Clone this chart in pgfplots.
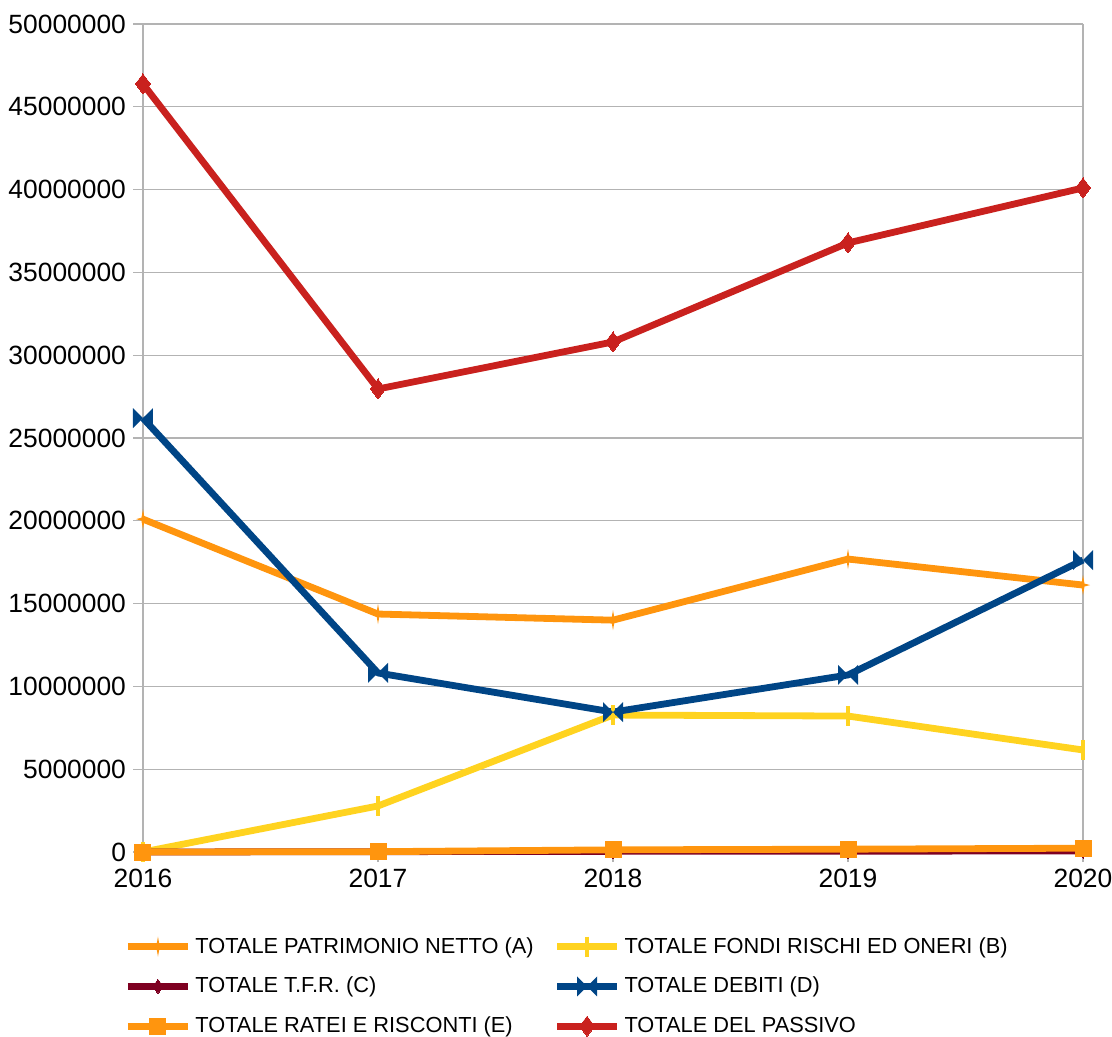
\documentclass[border=0pt]{standalone}
\usepackage{pgfplots}
\pgfplotsset{compat=1.18}
\usepackage{fontspec}
\setmainfont{Liberation Sans}

\definecolor{cA}{HTML}{FF950E}
\definecolor{cB}{HTML}{FFD320}
\definecolor{cC}{HTML}{7E0021}
\definecolor{cD}{HTML}{004586}
\definecolor{cP}{HTML}{C9211E}
\definecolor{gridc}{HTML}{B3B3B3}

% bowtie mark for the debts line
\pgfdeclareplotmark{bowtie}{%
  \pgfpathmoveto{\pgfqpoint{-\pgfplotmarksize}{\pgfplotmarksize}}%
  \pgfpathlineto{\pgfqpoint{\pgfplotmarksize}{-\pgfplotmarksize}}%
  \pgfpathlineto{\pgfqpoint{\pgfplotmarksize}{\pgfplotmarksize}}%
  \pgfpathlineto{\pgfqpoint{-\pgfplotmarksize}{-\pgfplotmarksize}}%
  \pgfpathclose\pgfusepathqfill}
% thin four-point star
\pgfdeclareplotmark{spark}{%
  \pgfpathmoveto{\pgfqpoint{0pt}{\pgfplotmarksize}}%
  \pgfpathlineto{\pgfqpoint{0.15\pgfplotmarksize}{0.15\pgfplotmarksize}}%
  \pgfpathlineto{\pgfqpoint{0.7\pgfplotmarksize}{0pt}}%
  \pgfpathlineto{\pgfqpoint{0.15\pgfplotmarksize}{-0.15\pgfplotmarksize}}%
  \pgfpathlineto{\pgfqpoint{0pt}{-\pgfplotmarksize}}%
  \pgfpathlineto{\pgfqpoint{-0.15\pgfplotmarksize}{-0.15\pgfplotmarksize}}%
  \pgfpathlineto{\pgfqpoint{-0.7\pgfplotmarksize}{0pt}}%
  \pgfpathlineto{\pgfqpoint{-0.15\pgfplotmarksize}{0.15\pgfplotmarksize}}%
  \pgfpathclose\pgfusepathqfill}

\begin{document}
\begin{tikzpicture}
\begin{axis}[
  scale only axis, width=470pt, height=414pt,
  xmin=2016, xmax=2020, ymin=0, ymax=50000000,
  xtick={2016,2017,2018,2019,2020},
  ytick={0,5000000,10000000,15000000,20000000,25000000,30000000,35000000,40000000,45000000,50000000},
  scaled y ticks=false,
  /pgf/number format/assume math mode=true,
  xticklabel style={/pgf/number format/1000 sep={}},
  yticklabel style={/pgf/number format/fixed,/pgf/number format/1000 sep={}},
  tick label style={font=\fontsize{13.2}{15}\selectfont},
  ymajorgrids, grid style={gridc, line width=0.6pt},
  separate axis lines,
  x axis line style={draw=none},
  y axis line style={gridc, line width=0.6pt},
  tick style={gridc, line width=0.6pt},
  tick align=outside, major tick length=5pt,
  xtick pos=bottom, ytick pos=left,
  clip=false,
  legend columns=2,
  legend cell align=left,
  legend style={draw=none, font=\fontsize{10.9}{12}\selectfont,
    at={(-0.0264,-0.0928)}, anchor=north west,
    /tikz/every even column/.append style={column sep=8pt},
    row sep=6.5pt},
  legend image code/.code={%
    \draw[mark repeat=2,mark phase=2,#1] plot coordinates {(0pt,0pt) (15pt,0pt) (30pt,0pt)};},
  every axis plot/.append style={line width=3.4pt, line join=round},
]
\addplot[cA, mark=spark, mark size=5pt, mark options={solid}] coordinates {
(2016,20100000)(2017,14370000)(2018,14000000)(2019,17690000)(2020,16120000)};
\addlegendentry{TOTALE PATRIMONIO NETTO (A)}
\addplot[cB, mark=|, mark size=5pt, mark options={line width=2pt}] coordinates {
(2016,0)(2017,2780000)(2018,8270000)(2019,8210000)(2020,6160000)};
\addlegendentry{TOTALE FONDI RISCHI ED ONERI (B)}
\addplot[cC, mark=diamond*, mark size=3.5pt, mark options={line width=0pt}] coordinates {
(2016,0)(2017,20000)(2018,40000)(2019,50000)(2020,60000)};
\addlegendentry{TOTALE T.F.R. (C)}
\addplot[cD, mark=bowtie, mark size=5pt] coordinates {
(2016,26200000)(2017,10810000)(2018,8450000)(2019,10690000)(2020,17630000)};
\addlegendentry{TOTALE DEBITI (D)}
\addplot[cA, mark=square*, mark size=4pt, mark options={line width=0pt}] coordinates {
(2016,0)(2017,20000)(2018,130000)(2019,170000)(2020,230000)};
\addlegendentry{TOTALE RATEI E RISCONTI (E)}
\addplot[cP, mark=diamond*, mark size=5pt, mark options={line width=0pt}] coordinates {
(2016,46380000)(2017,27960000)(2018,30800000)(2019,36780000)(2020,40100000)};
\addlegendentry{TOTALE DEL PASSIVO}
\end{axis}
\pgfresetboundingbox
\useasboundingbox ([shift={(-71.5pt,-92.5pt)}]current axis.south west)
  rectangle ([shift={(484.5pt,426pt)}]current axis.south west);
\end{tikzpicture}
\end{document}
